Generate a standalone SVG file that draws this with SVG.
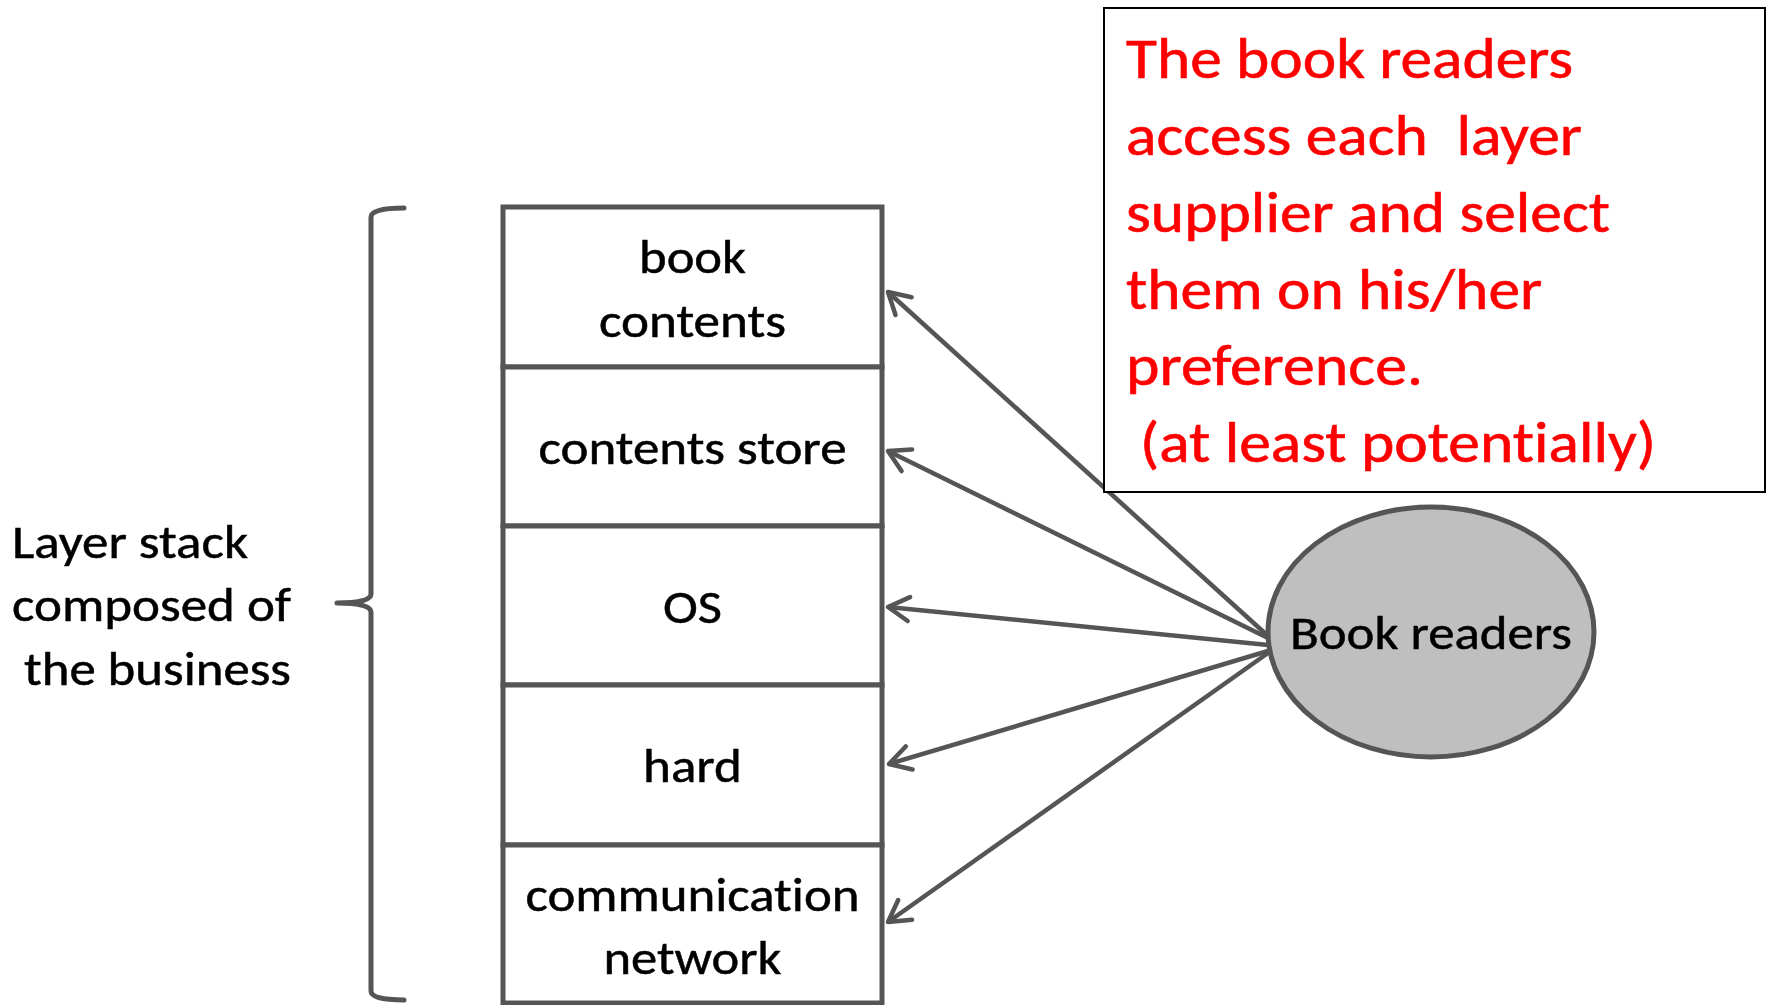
<svg xmlns="http://www.w3.org/2000/svg" width="1767" height="1005" viewBox="0 0 1767 1005">
  <style>
    text { font-variant-ligatures: none; font-feature-settings: "liga" 0, "clig" 0; }
    .lbl { font-family: Carlito, Calibri, Lato, "Noto Sans", sans-serif; font-size: 48px; fill: #000; stroke: #000; stroke-width: 0.5; }
    .mid { text-anchor: middle; }
    .note { font-family: Carlito, Calibri, Lato, "Noto Sans", sans-serif; font-size: 58px; fill: #FF0000; stroke: #FF0000; stroke-width: 0.6; }
    .layer { fill: #fff; stroke: #555; stroke-width: 5; }
    .link { fill: none; stroke: #555; stroke-width: 4.5; marker-end: url(#open); }
  </style>
  <defs>
    <marker id="open" markerUnits="userSpaceOnUse" markerWidth="40" markerHeight="40" refX="0" refY="0" viewBox="-30 -20 40 40" orient="auto" overflow="visible">
      <path d="M-21,-12 L0,0 L-21,12" fill="none" stroke="#555" stroke-width="4.5" stroke-linecap="round" stroke-linejoin="round"/>
    </marker>
  </defs>
  <rect width="1767" height="1005" fill="#fff"/>

  <!-- brace and caption on the left -->
  <g id="stack-brace">
    <path d="M404,208 Q371,208 371,217 L371,594 Q371,603 337,603 Q371,603 371,612 L371,991 Q371,1000 404,1000" fill="none" stroke="#555" stroke-width="5" stroke-linecap="round" stroke-linejoin="round"/>
  </g>
  <g id="caption">
    <text class="lbl" x="12" y="558" textLength="236" lengthAdjust="spacingAndGlyphs">Layer stack</text>
    <text class="lbl" x="12" y="621" textLength="279" lengthAdjust="spacingAndGlyphs">composed of</text>
    <text class="lbl" x="24" y="685" textLength="267" lengthAdjust="spacingAndGlyphs">the business</text>
  </g>

  <!-- connectors from the readers to each layer -->
  <g id="connectors">
    <line class="link" x1="1268" y1="636" x2="888" y2="292"/>
    <line class="link" x1="1268" y1="638" x2="888" y2="451"/>
    <line class="link" x1="1268" y1="645" x2="888" y2="607"/>
    <line class="link" x1="1268" y1="651" x2="889" y2="764"/>
    <line class="link" x1="1268" y1="653" x2="888" y2="922"/>
  </g>

  <!-- layer stack -->
  <g id="layer-book-contents">
    <rect class="layer" x="503" y="207" width="379" height="160"/>
    <text class="lbl mid" x="692.5" y="273" textLength="107" lengthAdjust="spacingAndGlyphs">book</text>
    <text class="lbl mid" x="692.5" y="337" textLength="187" lengthAdjust="spacingAndGlyphs">contents</text>
  </g>
  <g id="layer-contents-store">
    <rect class="layer" x="503" y="367" width="379" height="159"/>
    <text class="lbl mid" x="692.5" y="464" textLength="308" lengthAdjust="spacingAndGlyphs">contents store</text>
  </g>
  <g id="layer-os">
    <rect class="layer" x="503" y="526" width="379" height="159"/>
    <text class="lbl mid" x="692.5" y="623" textLength="59" lengthAdjust="spacingAndGlyphs">OS</text>
  </g>
  <g id="layer-hard">
    <rect class="layer" x="503" y="685" width="379" height="160"/>
    <text class="lbl mid" x="692.5" y="782" textLength="99" lengthAdjust="spacingAndGlyphs">hard</text>
  </g>
  <g id="layer-communication-network">
    <rect class="layer" x="503" y="845" width="379" height="158"/>
    <text class="lbl mid" x="692.5" y="911" textLength="334" lengthAdjust="spacingAndGlyphs">communication</text>
    <text class="lbl mid" x="692.5" y="974" textLength="178" lengthAdjust="spacingAndGlyphs">network</text>
  </g>

  <!-- readers node -->
  <g id="book-readers">
    <ellipse cx="1431" cy="632" rx="163" ry="125" fill="#BFBFBF" stroke="#555" stroke-width="5"/>
    <text class="lbl mid" x="1431" y="649" textLength="282" lengthAdjust="spacingAndGlyphs">Book readers</text>
  </g>

  <!-- note box -->
  <g id="note">
    <rect x="1104" y="8" width="661" height="484" fill="#fff" stroke="#000" stroke-width="2"/>
    <text class="note" x="1126" y="78" textLength="447" lengthAdjust="spacingAndGlyphs">The book readers</text>
    <text class="note" x="1126" y="155" textLength="456" lengthAdjust="spacingAndGlyphs" xml:space="preserve">access each  layer</text>
    <text class="note" x="1126" y="232" textLength="484" lengthAdjust="spacingAndGlyphs">supplier and select</text>
    <text class="note" x="1126" y="309" textLength="416" lengthAdjust="spacingAndGlyphs">them on his/her</text>
    <text class="note" x="1126" y="385" textLength="297" lengthAdjust="spacingAndGlyphs">preference.</text>
    <text class="note" x="1140" y="462" textLength="516" lengthAdjust="spacingAndGlyphs">(at least potentially)</text>
  </g>
</svg>
